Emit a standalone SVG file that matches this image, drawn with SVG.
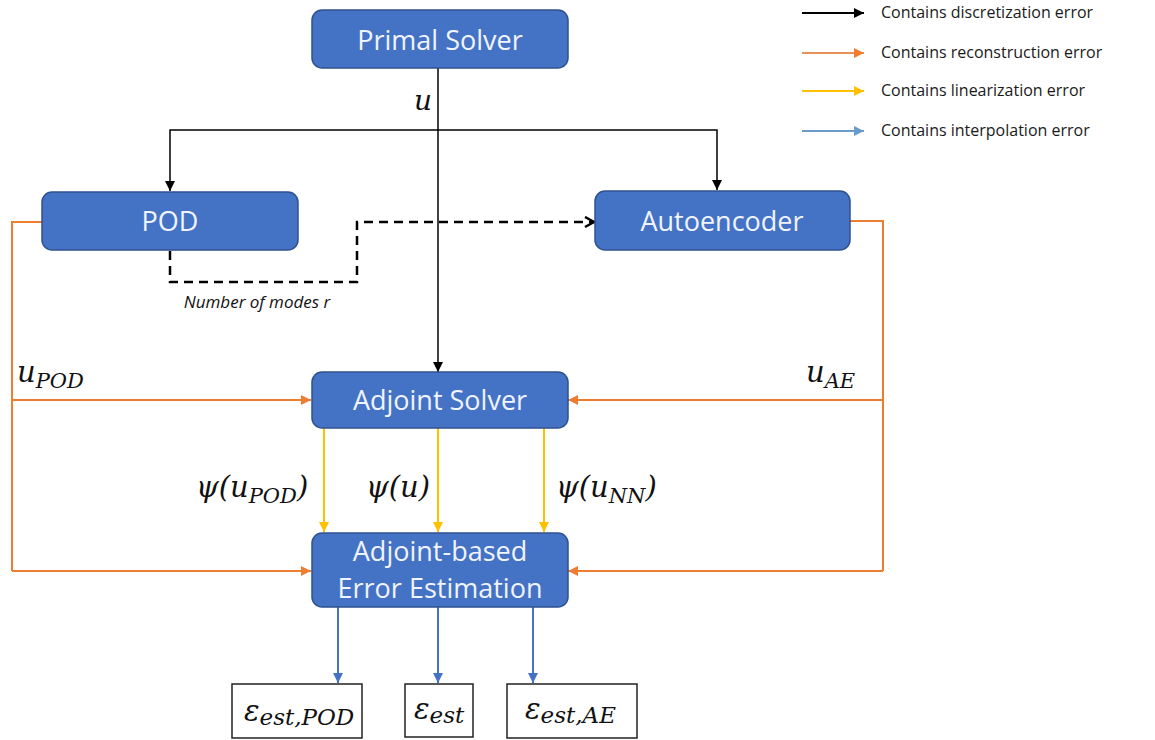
<svg xmlns="http://www.w3.org/2000/svg" width="1155" height="740" viewBox="0 0 1155 740">
<style>
.box{fill:#4472C4;stroke:#2F528F;stroke-width:1.5}
.bt{font-family:"Open Sans","Liberation Sans",sans-serif;font-size:27px;fill:#F0F4FF;text-anchor:middle}
.leg{font-family:"Open Sans","Liberation Sans",sans-serif;font-size:16px;fill:#1a1a1a}
.m{font-family:"DejaVu Serif","Liberation Serif",serif;font-style:italic;fill:#111}
.k{stroke:#000;stroke-width:1.5;fill:none}
.o{stroke:#ED7D31;stroke-width:2;fill:none}
.y{stroke:#FFC000;stroke-width:2;fill:none}
.b{stroke:#4472C4;stroke-width:2;fill:none}
.d{stroke:#000;stroke-width:2.5;fill:none;stroke-dasharray:9 6}
.ob{fill:#fff;stroke:#222;stroke-width:1.5}
</style>
<defs>
<marker id="ak" markerUnits="userSpaceOnUse" markerWidth="12" markerHeight="12" refX="10" refY="5" orient="auto"><path d="M0,0 L10,5 L0,10 z" fill="#000"/></marker>
<marker id="ao" markerUnits="userSpaceOnUse" markerWidth="12" markerHeight="12" refX="10" refY="5" orient="auto"><path d="M0,0 L10,5 L0,10 z" fill="#ED7D31"/></marker>
<marker id="ay" markerUnits="userSpaceOnUse" markerWidth="12" markerHeight="12" refX="10" refY="5" orient="auto"><path d="M0,0 L10,5 L0,10 z" fill="#FFC000"/></marker>
<marker id="ab" markerUnits="userSpaceOnUse" markerWidth="12" markerHeight="12" refX="10" refY="5" orient="auto"><path d="M0,0 L10,5 L0,10 z" fill="#4472C4"/></marker>
<marker id="alb" markerUnits="userSpaceOnUse" markerWidth="12" markerHeight="12" refX="10" refY="5" orient="auto"><path d="M0,0 L10,5 L0,10 z" fill="#6A9BCB"/></marker>
<marker id="ad" markerUnits="userSpaceOnUse" markerWidth="14" markerHeight="14" refX="11" refY="6" orient="auto"><path d="M2,1 L11,6 L2,11" fill="none" stroke="#000" stroke-width="2.5"/></marker>
</defs>

<g id="legend">
<line x1="802" y1="13" x2="864" y2="13" stroke="#000" stroke-width="2" marker-end="url(#ak)"/>
<text class="leg" x="881" y="18">Contains discretization error</text>
<line x1="802" y1="53" x2="864" y2="53" stroke="#E8925A" stroke-width="2" marker-end="url(#ao)"/>
<text class="leg" x="881" y="58">Contains reconstruction error</text>
<line x1="802" y1="91" x2="864" y2="91" stroke="#FFC000" stroke-width="2" marker-end="url(#ay)"/>
<text class="leg" x="881" y="96">Contains linearization error</text>
<line x1="802" y1="131" x2="864" y2="131" stroke="#6A9BCB" stroke-width="2" marker-end="url(#alb)"/>
<text class="leg" x="881" y="136">Contains interpolation error</text>
</g>

<g id="connectors">
<line class="k" x1="438" y1="68" x2="438" y2="372" marker-end="url(#ak)"/>
<polyline class="k" points="438,130 170,130 170,191" marker-end="url(#ak)"/>
<polyline class="k" points="438,130 717,130 717,190" marker-end="url(#ak)"/>
<polyline class="d" points="170,251 170,282 357,282 357,222 594,222" marker-end="url(#ad)"/>
<polyline class="o" points="42,222 12,222 12,571"/>
<line class="o" x1="12" y1="400" x2="311" y2="400" marker-end="url(#ao)"/>
<line class="o" x1="12" y1="571" x2="311" y2="571" marker-end="url(#ao)"/>
<polyline class="o" points="850,221 883,221 883,571"/>
<line class="o" x1="883" y1="400" x2="568" y2="400" marker-end="url(#ao)"/>
<line class="o" x1="883" y1="571" x2="568" y2="571" marker-end="url(#ao)"/>
<line class="y" x1="324" y1="428" x2="324" y2="532" marker-end="url(#ay)"/>
<line class="y" x1="438" y1="428" x2="438" y2="532" marker-end="url(#ay)"/>
<line class="y" x1="544" y1="428" x2="544" y2="532" marker-end="url(#ay)"/>
<line class="b" x1="338" y1="607" x2="338" y2="683" marker-end="url(#ab)"/>
<line class="b" x1="438" y1="607" x2="438" y2="683" marker-end="url(#ab)"/>
<line class="b" x1="533" y1="607" x2="533" y2="683" marker-end="url(#ab)"/>
<text class="m" x="414" y="110" font-size="28">u</text>
<text x="257" y="308" font-family="Open Sans,Liberation Sans,sans-serif" font-size="17" font-style="italic" fill="#111" text-anchor="middle">Number of modes r</text>
<text class="m" x="17" y="382" font-size="29">u<tspan font-size="21" dy="6">POD</tspan></text>
<text class="m" x="806" y="382" font-size="29">u<tspan font-size="21" dy="6">AE</tspan></text>
<text class="m" x="196" y="497" font-size="29">ψ(u<tspan font-size="21" dy="6">POD</tspan><tspan dy="-6">)</tspan></text>
<text class="m" x="366" y="497" font-size="29">ψ(u)</text>
<text class="m" x="556" y="497" font-size="29">ψ(u<tspan font-size="21" dy="6">NN</tspan><tspan dy="-6">)</tspan></text>
</g>

<g id="primal"><rect class="box" x="312" y="10" width="256" height="58" rx="10"/><text class="bt" x="440" y="50">Primal Solver</text></g>
<g id="pod"><rect class="box" x="42" y="192" width="256" height="58" rx="10"/><text class="bt" x="170" y="231">POD</text></g>
<g id="autoencoder"><rect class="box" x="595" y="191" width="255" height="59" rx="10"/><text class="bt" x="722" y="231">Autoencoder</text></g>
<g id="adjoint"><rect class="box" x="312" y="372" width="256" height="56" rx="10"/><text class="bt" x="440" y="410">Adjoint Solver</text></g>
<g id="estimation"><rect class="box" x="312" y="533" width="256" height="74" rx="10"/><text class="bt" x="440" y="561">Adjoint-based</text><text class="bt" x="440" y="598">Error Estimation</text></g>
<g id="out-pod"><rect class="ob" x="232" y="684" width="130" height="54"/><text class="m" x="244" y="721" font-size="29">ε<tspan font-size="23" dy="4">est,POD</tspan></text></g>
<g id="out-est"><rect class="ob" x="405" y="684" width="68" height="53"/><text class="m" x="414" y="719" font-size="29">ε<tspan font-size="23" dy="4">est</tspan></text></g>
<g id="out-ae"><rect class="ob" x="507" y="684" width="130" height="54"/><text class="m" x="525" y="719" font-size="29">ε<tspan font-size="23" dy="4">est,AE</tspan></text></g>
</svg>
